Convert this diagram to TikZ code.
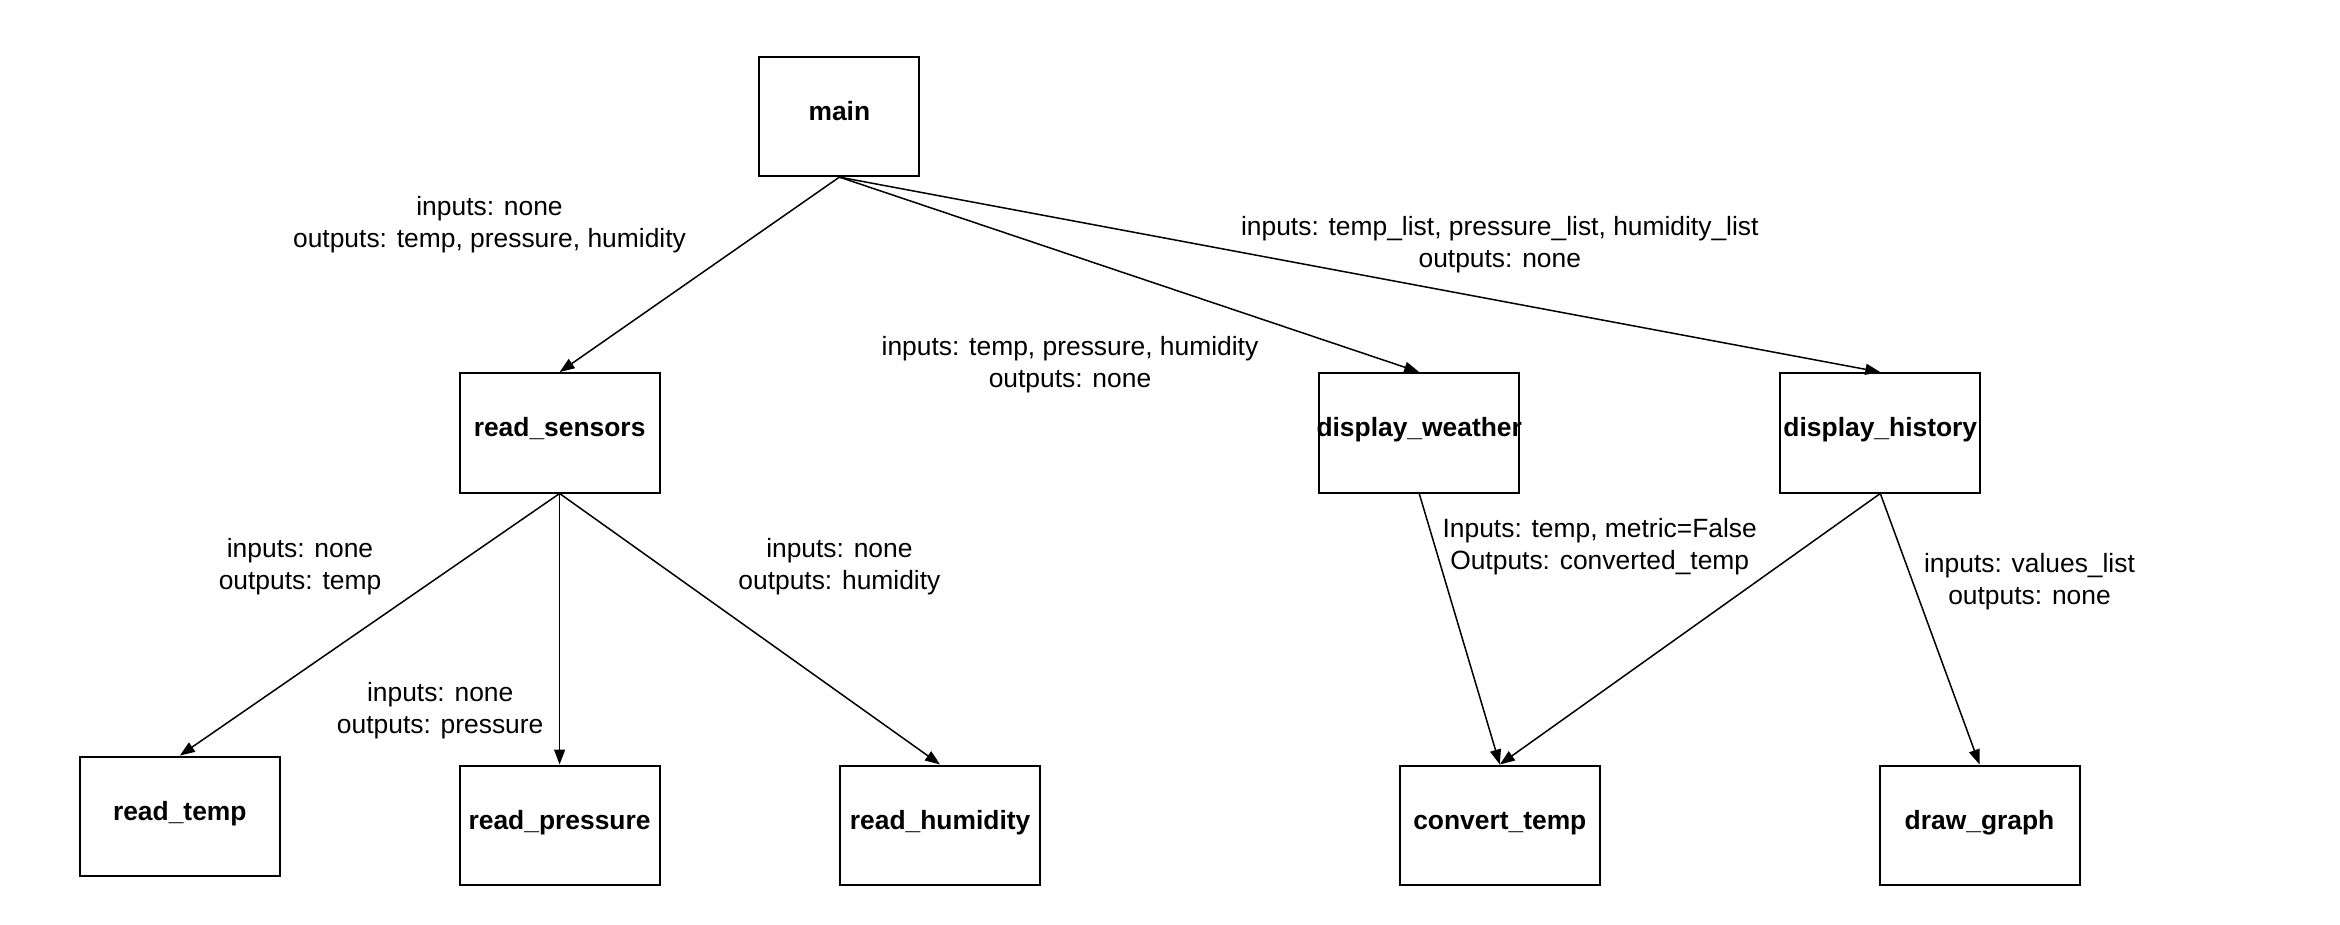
\documentclass[tikz,border=0pt]{standalone}
\usepackage{fontspec}
\setmainfont{Liberation Sans}
\usetikzlibrary{arrows.meta}
\begin{document}
\begin{tikzpicture}[
 x=.5pt,y=-.5pt,
 func/.style={draw,line width=1pt,minimum width=100pt,minimum height=59.7pt,
  inner sep=0pt,text height=9pt,text depth=5pt,
  font=\fontsize{13.2}{15}\selectfont\bfseries},
 call/.style={line width=.75pt,-{Triangle[length=7.5pt,width=5.5pt]}},
 io/.style={align=center,font=\fontsize{13.2}{16}\selectfont}]
 \useasboundingbox (0,0) rectangle (2340,925);
 % functions
 \node[func,minimum width=80pt] (main) at (839.4,116.4) {main};
 \node[func] (sensors) at (559.6,432.8) {read\_sensors};
 \node[func] (weather) at (1419.2,432.8) {\makebox[0pt]{display\_weather}};
 \node[func] (history) at (1880.3,432.8) {display\_history};
 \node[func] (temp) at (179.8,816.3) {read\_temp};
 \node[func] (pressure) at (559.6,825.2) {read\_pressure};
 \node[func] (humidity) at (940.1,825.2) {read\_humidity};
 \node[func] (convert) at (1499.8,825.2) {convert\_temp};
 \node[func] (graph) at (1979.5,825.2) {draw\_graph};
 % calls
 \foreach \from/\to in {main/sensors,main/weather,main/history,
  sensors/temp,sensors/pressure,sensors/humidity,
  weather/convert,history/convert,history/graph}
  \draw[call] (\from.south) -- (\to.north);
 % inputs and outputs
 \node[io] (ioSensors) at (489.5,224.6) {inputs: none\\outputs: temp, pressure, humidity};
 \node[io] (ioWeather) at (1070,364.9) {inputs: temp, pressure, humidity\\outputs: none};
 \node[io] (ioHistory) at (1499.8,244.7) {inputs: temp\_list, pressure\_list, humidity\_list\\outputs: none};
 \node[io] (ioTemp) at (300,566.3) {inputs: none\\outputs: temp};
 \node[io] (ioPressure) at (440.2,711.1) {inputs: none\\outputs: pressure};
 \node[io] (ioHumidity) at (839.4,566.3) {inputs: none\\outputs: humidity};
 \node[io] (ioConvert) at (1599.7,546.2) {Inputs: temp, metric=False\\Outputs: converted\_temp};
 \node[io] (ioGraph) at (2029.5,581.3) {inputs: values\_list\\outputs: none};
\end{tikzpicture}
\end{document}
